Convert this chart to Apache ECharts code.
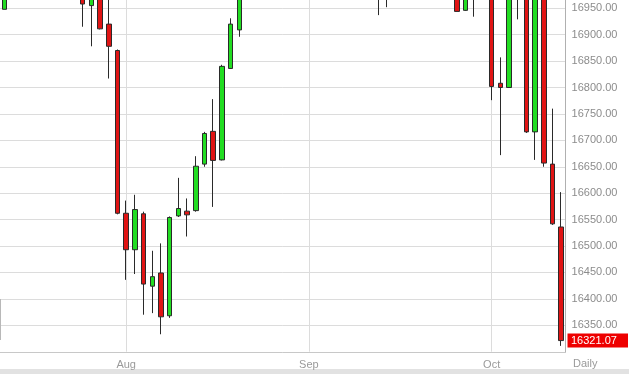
<!DOCTYPE html>
<html>
<head>
<meta charset="utf-8">
<script src="https://cdn.jsdelivr.net/npm/echarts@6/dist/echarts.min.js"></script>
<style>
html,body{margin:0;padding:0;background:#fff;}
#c{width:629px;height:374px;}
</style>
</head>
<body>
<div id="c"></div>
<script>
const dates = [
 '2014-07-14','2014-07-15','2014-07-16','2014-07-17','2014-07-18',
 '2014-07-21','2014-07-22','2014-07-23','2014-07-24','2014-07-25',
 '2014-07-28','2014-07-29','2014-07-30','2014-07-31',
 '2014-08-01','2014-08-04','2014-08-05','2014-08-06','2014-08-07','2014-08-08',
 '2014-08-11','2014-08-12','2014-08-13','2014-08-14','2014-08-15',
 '2014-08-18','2014-08-19','2014-08-20','2014-08-21','2014-08-22',
 '2014-08-25','2014-08-26','2014-08-27','2014-08-28','2014-08-29',
 '2014-09-02','2014-09-03','2014-09-04','2014-09-05',
 '2014-09-08','2014-09-09','2014-09-10','2014-09-11','2014-09-12',
 '2014-09-15','2014-09-16','2014-09-17','2014-09-18','2014-09-19',
 '2014-09-22','2014-09-23','2014-09-24','2014-09-25','2014-09-26',
 '2014-09-29','2014-09-30',
 '2014-10-01','2014-10-02','2014-10-03',
 '2014-10-06','2014-10-07','2014-10-08','2014-10-09','2014-10-10',
 '2014-10-13'
];
const opens  = [16948,17055,17062,17136,16977,17100,17052,17114,17086,17083,16955,16983,16920,16870,
 16562,16493,16561,16424,16449,16368,16557,16566,16567,16655,16717,16663,16836,16909,16979,17039,
 17001,17076,17106,17122,17079,17098,17067,17078,17069,17137,17111,17014,17068,17049,16987,17031,
 17131,17156,17265,17279,17173,17056,17210,16946,17113,17071,17043,16808,16800,17009,16992,16716,
 16994,16655,16536];
const closes = [17055,17060,17138,16977,17100,17052,17114,17086,17084,16958,16983,16911,16878,16562,
 16493,16569,16428,16442,16366,16554,16571,16559,16651,16713,16662,16840,16920,16979,17039,17001,
 17076,17106,17122,17079,17098,17067,17078,17069,17137,17111,17014,17068,17049,16987,17031,17131,
 17156,17265,17279,17173,17056,17210,16944,17113,17071,17043,16802,16800,17009,16992,16716,16994,
 16657,16542,16321.07];
const lows   = [16948,16995,17055,16970,16975,17000,17048,17060,17040,16915,16878,16910,16817,16560,
 16436,16447,16370,16373,16333,16364,16555,16518,16565,16650,16574,16662,16835,16896,16975,16980,
 17000,17070,17090,17000,17060,17010,17060,17030,17000,17090,17000,16990,16990,16937,16952,17000,
 17100,17150,17250,17150,17050,17030,16944,16945,16934,17010,16776,16672,16799,16929,16714,16663,
 16650,16540,16311];
const highs  = [17080,17120,17150,17150,17110,17100,17150,17130,17150,17085,17000,17005,16990,16872,
 16586,16597,16565,16491,16505,16556,16629,16590,16670,16716,16778,16843,16931,16985,17050,17060,
 17150,17150,17160,17120,17110,17110,17150,17150,17140,17140,17120,17070,17070,17050,17040,17140,
 17200,17270,17350,17280,17175,17215,17210,17120,17115,17150,17045,16857,17030,17100,16993,17000,
 17000,16760,16602];
const monthLabels = {'2014-08-01':'Aug','2014-09-02':'Sep','2014-10-01':'Oct'};
const lastPrice = 16321.07;
const yMin = 16300, yMax = 16965.6, yStep = 50;

const ohlc = dates.map((d,i)=>[opens[i],closes[i],lows[i],highs[i]]);
const isMonth = (idx, v) => monthLabels[v] !== undefined;
const FONT = 'Liberation Sans, Arial, sans-serif';

const chart = echarts.init(document.getElementById('c'), null, {renderer:'canvas'});
chart.setOption({
  animation:false,
  backgroundColor:'#ffffff',
  grid:{left:-2.3, top:0, width:567.9, height:351.7},
  xAxis:{
    type:'category', data:dates, boundaryGap:true,
    offset:1,
    axisLine:{show:true, lineStyle:{color:'#c8c8c8', width:1}},
    axisTick:{show:false},
    axisLabel:{interval:isMonth, formatter:v=>monthLabels[v]||'', color:'#9a9a9a',
      fontSize:11, fontFamily:FONT, margin:7},
    splitLine:{show:true, interval:isMonth, alignWithLabel:true, lineStyle:{color:'#dcdcdc', width:1}}
  },
  yAxis:{
    type:'value', position:'right', min:yMin, max:yMax, interval:yStep,
    axisLine:{show:true, lineStyle:{color:'#b0b0b0', width:1}},
    axisTick:{show:false},
    axisLabel:{color:'#8c8c8c', fontSize:11, fontFamily:FONT, margin:6,
      formatter:v => (v <= yMin || v >= 16960) ? '' : v.toFixed(2)},
    splitLine:{show:true, showMaxLine:false, showMinLine:false, lineStyle:{color:'#dcdcdc', width:1}}
  },
  series:[{
    type:'candlestick',
    data:ohlc,
    barWidth:5,
    clip:true,
    itemStyle:{color:'#22dd22', color0:'#e01414', borderColor:'#2a2a2a', borderColor0:'#2a2a2a', borderWidth:1}
  }]
});

const yLast = chart.convertToPixel({yAxisIndex:0}, lastPrice);
chart.setOption({
  graphic:[
    {type:'rect', left:0, top:369, shape:{width:629, height:5}, style:{fill:'#e2e2e2'}, silent:true},
    {type:'line', shape:{x1:0.5, y1:299, x2:0.5, y2:340}, style:{stroke:'#b8b8b8', lineWidth:1}, silent:true},
    {type:'text', left:573, top:358, style:{text:'Daily', fill:'#9a9a9a', fontSize:11, fontFamily:FONT}, silent:true},
    {type:'rect', shape:{x:567.5, y:yLast-7, width:60.5, height:14}, style:{fill:'#ee0000'}, silent:true, z:10},
    {type:'text', x:571, y:yLast, style:{text:lastPrice.toFixed(2), fill:'#ffffff', fontSize:11,
      fontFamily:FONT, verticalAlign:'middle', align:'left'}, silent:true, z:11}
  ]
});
</script>
</body>
</html>
